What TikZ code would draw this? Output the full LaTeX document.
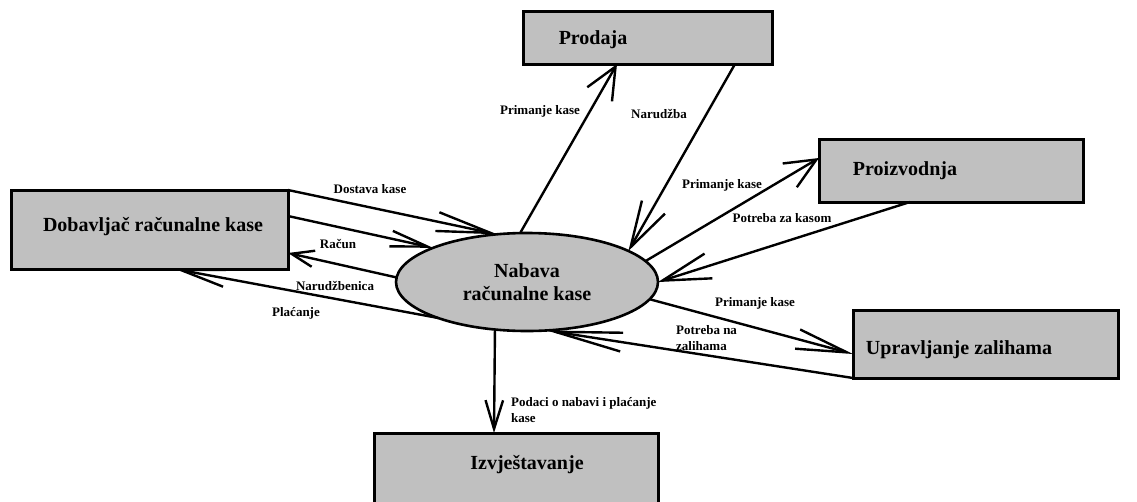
\documentclass[tikz,border=0pt]{standalone}
\usepackage{fontspec}
\setmainfont{Liberation Serif}
\usetikzlibrary{arrows.meta,shapes.geometric,calc}
\definecolor{boxgray}{RGB}{192,192,192}
\begin{document}
\begin{tikzpicture}[x=1pt,y=-1pt,
  box/.style={draw=black, line width=3pt, fill=boxgray, outer sep=0pt, inner sep=0pt},
  boxtext/.style={font=\bfseries\fontsize{20}{23}\selectfont, inner sep=0pt},
  lab/.style={font=\bfseries\fontsize{13}{16}\selectfont, inner sep=0pt, align=left},
  flow/.style 2 args={draw=black, line width=2.4pt, -{Straight Barb[angle=#2:#1pt]}}]
\clip (0,0) rectangle (1137,501);
\fill[white] (0,0) rectangle (1137,501);

% boxes
\node[box, minimum width=277pt, minimum height=79pt,
  label={[boxtext, xshift=3.5pt, yshift=2.5pt]center:Dobavljač računalne kase}] (dob) at (149.5,229.5) {};
\node[box, minimum width=249pt, minimum height=53pt,
  label={[boxtext, xshift=-54.5pt, yshift=-2.5pt]center:Prodaja}] (prod) at (647.5,37.5) {};
\node[box, minimum width=264pt, minimum height=63pt,
  label={[boxtext, xshift=-46pt]center:Proizvodnja}] (proiz) at (951,170.5) {};
\node[box, minimum width=265pt, minimum height=68pt,
  label={[boxtext, xshift=-26.5pt, yshift=-6pt]center:Upravljanje zalihama}] (upr) at (985.5,344) {};
\node[box, minimum width=284pt, minimum height=80pt,
  label={[boxtext, xshift=11pt, yshift=8pt]center:Izvještavanje}] (izv) at (516,473) {};

% process
\node[ellipse, draw=black, line width=2.6pt, fill=boxgray, outer sep=0pt,
  minimum width=262pt, minimum height=98pt, align=center,
  font=\bfseries\fontsize{20}{23}\selectfont] (nab) at (527,282) {Nabava\\računalne kase};

% flows
\draw[flow={55}{20}] (dob.north east) -- (nab.122.5);
\draw[flow={38}{24}] ([yshift=13.5pt]dob.east) -- (nab.160.3);
\draw[flow={24}{40}] (nab.178.7) -- ([yshift=-23.5pt]dob.east);
\draw[flow={45}{22}] (nab.202.9) -- ([xshift=25.5pt]dob.south);
\draw[flow={35}{48}] (nab.98) -- ([xshift=-30.5pt]prod.south);
\draw[flow={48}{32}] ([xshift=87.5pt]prod.south) -- (nab.17.6);
\draw[flow={34}{48}] (nab.10.1) -- ([yshift=12.5pt]proiz.west);
\draw[flow={50}{30}] ([xshift=-41pt]proiz.south) -- (nab.0.9);
\draw[flow={52}{22}] (nab.-8.2) -- ([yshift=-10pt]upr.west);
\draw[flow={68}{16}] (upr.south west) -- (nab.-68);
\draw[flow={30}{34}] (nab.236.6) -- ([xshift=-22pt]izv.north);

% labels
\node[lab] (l1) at (370,189) {Dostava kase};
\node[lab] (l2) at (338,244) {Račun};
\node[lab] (l3) at (335,286) {Narudžbenica};
\node[lab] (l4) at (296,313) {Plaćanje};
\node[lab] (l5) at (540,111) {Primanje kase};
\node[lab] (l6) at (659,114) {Narudžba};
\node[lab] (l7) at (722,185) {Primanje kase};
\node[lab] (l8) at (782,218) {Potreba za kasom};
\node[lab] (l9) at (755,303) {Primanje kase};
\node[lab, anchor=west] (l10) at (676,338) {Potreba na\\zalihama};
\node[lab, anchor=west] (l11) at (511,410) {Podaci o nabavi i plaćanje\\kase};
\end{tikzpicture}
\end{document}
